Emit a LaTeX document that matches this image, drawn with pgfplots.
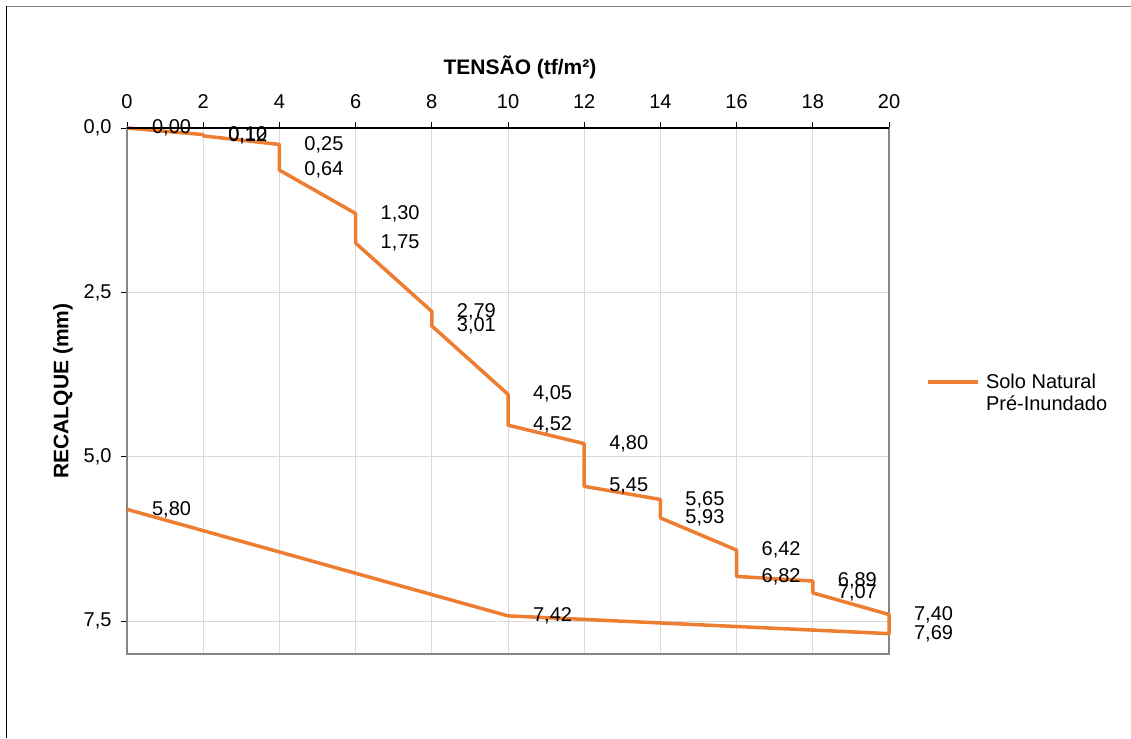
\documentclass[border=0pt]{standalone}
\usepackage{fontspec}
\setmainfont{Liberation Sans}
\usepackage{pgfplots}
\pgfplotsset{compat=1.18}
\definecolor{serie}{HTML}{ED7D31}
\definecolor{grade}{HTML}{D9D9D9}
\definecolor{moldura}{HTML}{858585}

\begin{document}
\begin{tikzpicture}[x=1pt,y=1pt]
\useasboundingbox (0,0) rectangle (1131,738);
% moldura da área do gráfico
\draw[black, line width=1pt] (6.5,0) -- (6.5,731.5);
\draw[moldura, line width=1pt] (6.5,731.5) -- (1131,731.5);
\begin{axis}[
  at={(127pt,84pt)}, anchor=south west,
  scale only axis, width=762pt, height=526pt,
  xmin=0, xmax=20, ymin=0, ymax=8, y dir=reverse,
  xtick={0,2,...,20}, ytick={0,2.5,5,7.5},
  xtick pos=right, xticklabel pos=right, ytick pos=left,
  tick align=outside, major tick length=6pt,
  grid=major, grid style={grade, line width=1pt},
  axis line style={moldura, line width=2pt},
  tick style={black, line width=1pt},
  clip=false,
  tick label style={font=\fontsize{20}{24}\selectfont},
  label style={font=\bfseries\fontsize{21}{25}\selectfont},
  xlabel={TENSÃO (tf/m²)},
  ylabel={RECALQUE (mm)},
  xlabel style={xshift=12pt, yshift=9pt},
  ylabel style={yshift=4pt},
  xticklabel style={yshift=10pt},
  yticklabel style={xshift=-6pt, /pgf/number format/.cd, fixed, fixed zerofill, precision=1, use comma},
  /pgf/number format/assume math mode=true,
  legend style={at={(1.045,0.54)}, anchor=north west, draw=none, fill=none,
    font=\fontsize{20}{22}\selectfont, cells={anchor=west, align=left}},
  legend image code/.code={
    \path (0pt,0pt) (54pt,0pt);
    \draw[#1, line width=3.5pt] (0pt,11pt) -- (50pt,11pt);},
]
\addplot[serie, line width=3.5pt, line join=round,
  nodes near coords, point meta=y,
  nodes near coords style={anchor=west, xshift=20pt, text=black,
    font=\fontsize{20}{24}\selectfont,
    /pgf/number format/.cd, fixed, fixed zerofill, precision=2, use comma, assume math mode=true}]
coordinates {
  (0,0.00) (2,0.10) (2,0.12) (4,0.25) (4,0.64) (6,1.30) (6,1.75)
  (8,2.79) (8,3.01) (10,4.05) (10,4.52) (12,4.80) (12,5.45)
  (14,5.65) (14,5.93) (16,6.42) (16,6.82) (18,6.89) (18,7.07)
  (20,7.40) (20,7.69) (10,7.42) (0,5.80)
};
\addlegendentry{Solo Natural\\Pré-Inundado}
\draw[black, line width=1.5pt] (axis cs:0,0) -- (axis cs:20,0);
\end{axis}
\end{tikzpicture}
\end{document}
